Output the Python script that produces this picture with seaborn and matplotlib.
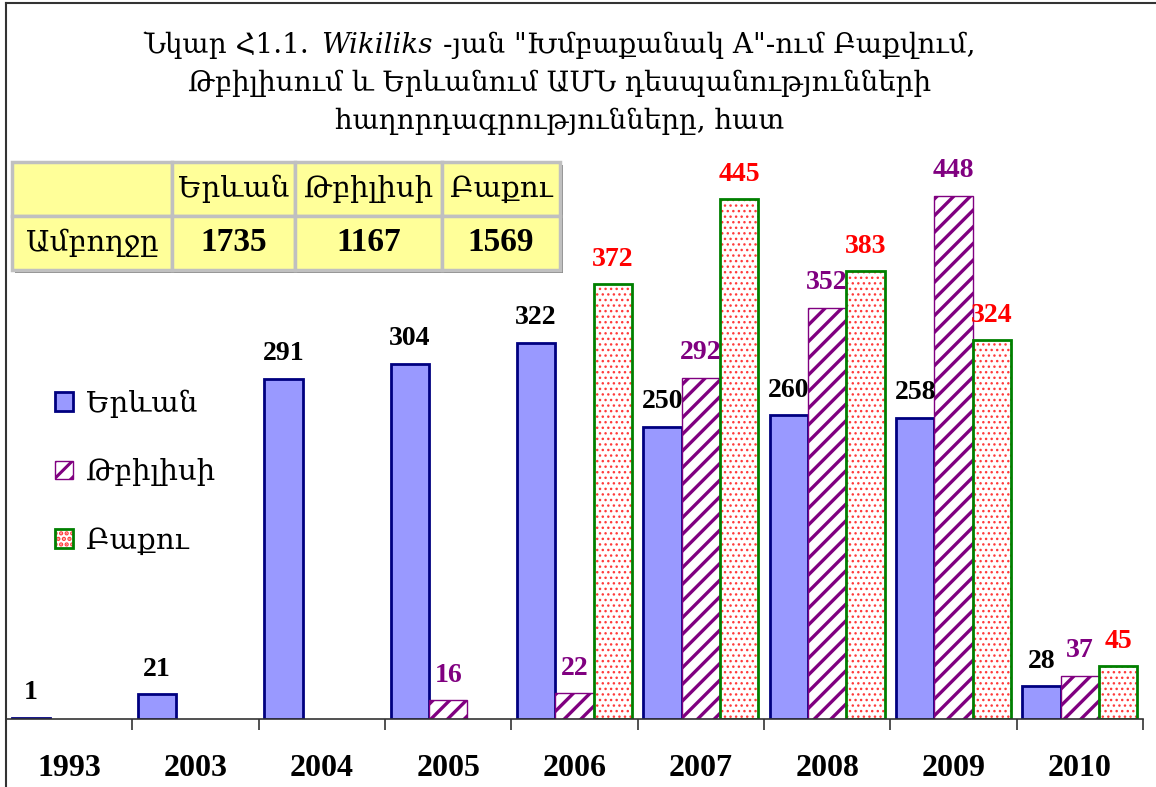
import numpy as np
import pandas as pd
import matplotlib.pyplot as plt
import seaborn as sns
from matplotlib.patches import Patch, Rectangle
from matplotlib.lines import Line2D
from matplotlib.offsetbox import TextArea, HPacker, AnnotationBbox

# data
years = ['1993', '2003', '2004', '2005', '2006', '2007', '2008', '2009', '2010']
yerevan = [1, 21, 291, 304, 322, 250, 260, 258, 28]
tbilisi = [None, None, None, 16, 22, 292, 352, 448, 37]
baku = [None, None, None, None, 372, 445, 383, 324, 45]
cities = ['Երևան', 'Թբիլիսի', 'Բաքու']
totals = ['1735', '1167', '1569']
total_label = 'Ամբողջը'

title_first = ['Նկար Հ1.1.', 'Wikiliks', '-յան "Խմբաքանակ A"-ում Բաքվում,']
title_rest = [
    'Թբիլիսում և Երևանում ԱՄՆ դեսպանությունների',
    'հաղորդագրությունները, հատ',
]

plt.rcParams['font.family'] = ['Liberation Serif', 'DejaVu Serif', 'DejaVu Sans']
plt.rcParams['hatch.linewidth'] = 2.2
title_font = ['DejaVu Serif', 'DejaVu Sans']

rows = []
for city, vals in zip(cities, [yerevan, tbilisi, baku]):
    for y, v in zip(years, vals):
        if v is not None:
            rows.append({'year': y, 'city': city, 'count': v})
df = pd.DataFrame(rows)

W, H = 1156, 787
fig = plt.figure(figsize=(W / 100, H / 100), dpi=100)
ax = fig.add_axes([6 / W, 1 - 719 / H, (1143 - 6) / W, (719 - 3) / H])

sns.barplot(data=df, x='year', y='count', hue='city', order=years,
            hue_order=cities, width=0.91, dodge=True, ax=ax, legend=False,
            errorbar=None)


def hatch_lw(p, lw):
    if hasattr(p, 'set_hatch_linewidth'):
        p.set_hatch_linewidth(lw)


label_colors = ['black', '#800080', '#FF0000']
for i, cont in enumerate(ax.containers):
    for p in cont:
        if i == 0:
            p.set_facecolor('#9999FF')
            p.set_edgecolor('#000080')
            p.set_linewidth(2)
        elif i == 1:
            p.set_facecolor('white')
            p.set_edgecolor('#800080')
            p.set_hatch('//')
            p.set_linewidth(1)
            hatch_lw(p, 2.4)
        else:
            p.set_facecolor('white')
            p.set_edgecolor('#FF3B3B')
            p.set_hatch('...')
            p.set_linewidth(0)
            hatch_lw(p, 1.0)
            ax.add_patch(Rectangle(p.get_xy(), p.get_width(), p.get_height(),
                                   fill=False, edgecolor='#008000', linewidth=2))
    ax.bar_label(cont, padding=9, color=label_colors[i], fontsize=20,
                 fontweight='bold')

ax.set_xlim(-0.5, len(years) - 0.5)
ax.set_ylim(0, 716 / 1.1685)
for s in ['left', 'right', 'top']:
    ax.spines[s].set_visible(False)
ax.spines['bottom'].set_linewidth(1.2)
ax.spines['bottom'].set_color('#333333')
ax.set_yticks([])
ax.set_xticks(range(len(years)))
ax.set_xticklabels(years, fontsize=23, fontweight='bold')
ax.set_xticks(np.arange(-0.5, len(years)), minor=True)
ax.tick_params(axis='x', which='major', length=0, pad=25)
ax.tick_params(axis='x', which='minor', length=8, width=1.2, color='#333333')
ax.set_xlabel('')
ax.set_ylabel('')
ax.patch.set_alpha(0)

# legend
baku_handle = Patch(facecolor='white', edgecolor='#FF3B3B', hatch='...', linewidth=0)
hatch_lw(baku_handle, 1.0)
handles = [
    Patch(facecolor='#9999FF', edgecolor='#000080', linewidth=2),
    Patch(facecolor='white', edgecolor='#800080', hatch='//', linewidth=1),
    (baku_handle, Patch(facecolor='none', edgecolor='#008000', linewidth=2)),
]
fig.legend(handles, cities, loc='upper left', bbox_to_anchor=(29 / W, 1 - 363 / H),
           frameon=False, fontsize=21, handlelength=0.6, handleheight=0.6,
           handletextpad=0.45, labelspacing=1.4)

# title
parts = [TextArea(title_first[0], textprops=dict(fontsize=20, family=title_font)),
         TextArea(title_first[1], textprops=dict(fontsize=20, family=title_font,
                                                 fontstyle='italic')),
         TextArea(title_first[2], textprops=dict(fontsize=20, family=title_font))]
line1 = HPacker(children=parts, sep=8, pad=0, align='baseline')
fig.add_artist(AnnotationBbox(line1, (560 / W, 1 - 45 / H), xycoords='figure fraction',
                              frameon=False, box_alignment=(0.5, 0.5)))
for k, line in enumerate(title_rest):
    fig.text(560 / W, 1 - (83 + 38 * k) / H, line, ha='center', va='center',
             fontsize=20, family=title_font)

# totals table
tax = fig.add_axes([12 / W, 1 - 270 / H, 548 / W, 108 / H])
tax.axis('off')
tax.add_patch(Rectangle((0.006, -0.025), 1, 1, transform=tax.transAxes,
                        facecolor='#8C8C8C', edgecolor='none', clip_on=False,
                        zorder=1))
cell_text = [[''] + cities, [total_label] + totals]
tab = tax.table(cellText=cell_text, bbox=[0, 0, 1, 1], cellLoc='center',
                colWidths=[160, 123, 147, 118])
tab.set_zorder(5)
tab.auto_set_font_size(False)
for (r, c), cell in tab.get_celld().items():
    cell.set_facecolor('#FFFF99')
    cell.set_edgecolor('#C0C0C0')
    cell.set_linewidth(2.5)
    cell.get_text().set_fontsize(21)
    if r == 1 and c > 0:
        cell.get_text().set_fontweight('bold')
        cell.get_text().set_fontsize(24)

# chart border
fig.add_artist(Line2D([6 / W, 6 / W], [0, 1 - 3 / H], transform=fig.transFigure,
                      color='#333333', linewidth=1.5))
fig.add_artist(Line2D([6 / W, 1], [1 - 3 / H, 1 - 3 / H], transform=fig.transFigure,
                      color='#333333', linewidth=1.5))

plt.savefig('out.png', dpi=100)
